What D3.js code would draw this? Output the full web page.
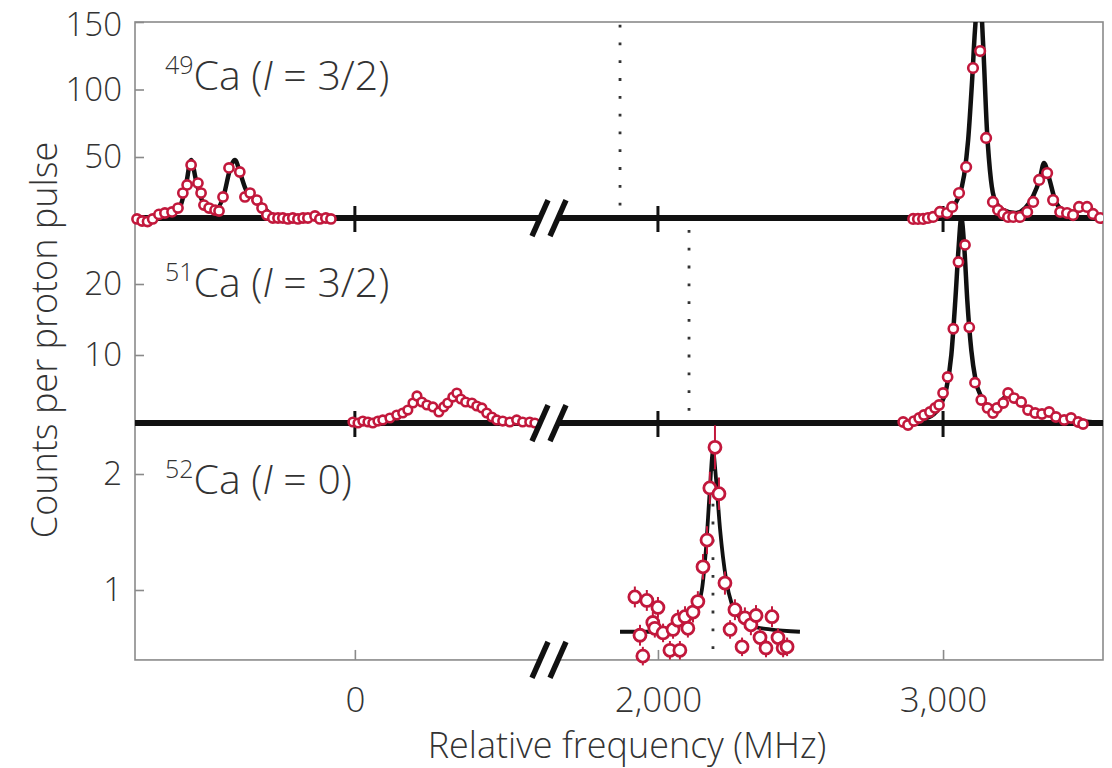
<!DOCTYPE html>
<html>
<head>
<meta charset="utf-8">
<script src="https://cdn.jsdelivr.net/npm/d3@7"></script>
<style>
  body { margin: 0; background: #fff; }
  text { font-family: 'Open Sans', 'Noto Sans', sans-serif; font-weight: 300; fill: #333; }
</style>
</head>
<body>
<svg id="chart" width="1112" height="768"></svg>
<script>
// ---- axis ticks ----
const xTickValues = [0, 2000, 3000];
const yTicks49 = [50, 100, 150];
const yTicks51 = [10, 20];
const yTicks52 = [1, 2];

// ---- 49Ca (I = 3/2): [frequency MHz, counts] ----
const ca49Left = [[-765,4.1],[-747,2.6],[-728,2.2],[-710,4.1],[-688,7.5],[-667,8.5],[-642,9.3],[-621,12.2],
  [-604,23.3],[-589,29.3],[-575,44.1],[-551,30.7],[-540,23.3],[-530,14.4],[-512,12.2],[-491,10.7],[-477,10.0],
  [-463,20.4],[-442,41.9],[-404,38.9],[-386,20.4],[-368,23.3],[-344,18.1],[-326,12.2],[-309,7.0],[-288,4.8],
  [-270,4.8],[-253,4.8],[-235,4.1],[-218,4.8],[-200,4.1],[-182,4.8],[-165,4.8],[-140,6.3],[-123,4.1],[-102,4.8],[-84,4.1]];
const ca49Right = [[2895,4.1],[2912,4.1],[2930,4.1],[2947,4.8],[2965,5.6],[2989,9.3],[3014,8.5],[3032,13.0],
  [3056,23.3],[3081,42.6],[3105,115.9],[3130,128.5],[3151,64.1],[3175,16.7],[3193,10.7],[3211,7.8],[3228,5.6],
  [3246,5.6],[3270,5.6],[3295,9.3],[3316,16.7],[3337,33.0],[3365,38.1],[3386,18.1],[3411,9.3],[3435,8.5],
  [3456,7.0],[3477,13.0],[3505,13.0],[3526,7.8],[3551,4.8]];
const ca49FitLeft = [[-772,4.8],[-684,5.6],[-642,7.8],[-614,13],[-593,29.3],[-575,47.8],[-558,33],[-537,18.1],
  [-509,12.2],[-484,12.2],[-460,21.9],[-439,40.4],[-421,47.8],[-404,38.9],[-382,25.6],[-358,21.1],[-333,15.9],
  [-305,9.3],[-263,5.6],[-193,4.8]];
const ca49FitRight = [[2849,4.8],[2954,5.6],[2989,7.8],[3025,11.5],[3053,19.6],[3074,36.7],[3088,62.6],
  [3102,107],[3112,144],[3119,160],[3133,160],[3140,136],[3154,70],[3168,33],[3182,18.1],[3211,10.7],
  [3253,8.5],[3288,12.2],[3316,21.1],[3340,34.4],[3354,45.6],[3372,34.4],[3393,18.1],[3421,10.7],
  [3463,9.3],[3498,12.2],[3526,9.3],[3561,4.8]];

// ---- 51Ca (I = 3/2) ----
const ca51Left = [[-7,0.56],[11,0.42],[28,0.7],[46,0.56],[63,0.42],[81,0.7],[98,0.85],[123,1.13],[147,1.55],
  [168,1.83],[186,2.25],[204,3.24],[218,4.23],[235,3.38],[253,2.96],[274,2.68],[295,1.97],[312,2.68],[326,3.24],
  [344,4.08],[358,4.65],[372,3.8],[389,3.38],[411,3.24],[428,2.82],[446,2.54],[463,1.83],[481,1.27],[498,0.85],
  [519,0.7],[544,0.56],[568,0.85],[589,0.56],[614,0.56],[632,0.42]];
const ca51Right = [[2860,0.56],[2877,0.14],[2898,0.7],[2916,1.13],[2933,1.55],[2954,1.97],[2972,2.54],[2986,2.96],
  [3000,4.65],[3016,6.9],[3036,13.7],[3054,23.1],[3077,25.5],[3092,13.9],[3112,6.1],[3134,3.66],[3156,2.54],
  [3175,1.83],[3189,2.54],[3211,3.24],[3228,4.65],[3249,3.94],[3274,3.38],[3298,2.25],[3323,1.83],[3347,1.69],
  [3372,1.97],[3396,1.27],[3425,0.85],[3449,1.13],[3474,0.56],[3491,0.28]];
const ca51FitLeft = [[-18,0.42],[88,0.56],[140,1.13],[175,1.97],[196,2.96],[214,3.94],[232,3.66],[256,2.82],
  [281,2.39],[302,2.54],[326,3.38],[351,4.23],[368,4.08],[396,3.52],[432,2.96],[463,1.97],[491,1.13],[544,0.7],[649,0.42]];
const ca51FitRight = [[2814,0.42],[2919,0.85],[2968,1.69],[2991,2.96],[3012,5.35],[3029,10],[3043,17.7],
  [3054,24.8],[3064,29.3],[3075,24.8],[3085,17.7],[3099,10.7],[3114,6.5],[3136,3.94],[3163,2.68],[3189,2.82],
  [3214,3.94],[3232,4.5],[3253,3.94],[3288,2.68],[3340,1.97],[3411,1.27],[3481,0.7],[3561,0.42]];

// ---- 52Ca (I = 0): [frequency MHz, counts, error] ----
const ca52Points = [[1919,0.94,0.09],[1937,0.61,0.09],[1947,0.43,0.08],[1961,0.91,0.09],[1982,0.72,0.09],
  [1989,0.67,0.08],[2000,0.85,0.09],[2018,0.63,0.08],[2042,0.48,0.08],[2053,0.66,0.08],[2070,0.74,0.09],
  [2077,0.48,0.08],[2095,0.77,0.09],[2105,0.67,0.08],[2123,0.81,0.09],[2140,0.90,0.09],[2158,1.20,0.11],
  [2172,1.43,0.12],[2182,1.88,0.14],[2200,2.23,0.19],[2214,1.83,0.14],[2235,1.06,0.10],[2253,0.66,0.08],
  [2270,0.83,0.09],[2295,0.51,0.08],[2305,0.76,0.09],[2326,0.70,0.09],[2344,0.78,0.09],[2358,0.59,0.08],
  [2379,0.50,0.08],[2400,0.77,0.09],[2421,0.59,0.08],[2439,0.50,0.08],[2453,0.51,0.08]];
const ca52Fit = [[1867,0.64],[1972,0.64],[2042,0.67],[2095,0.72],[2130,0.81],[2154,1.0],[2168,1.34],
  [2182,1.86],[2193,2.2],[2204,1.95],[2218,1.52],[2239,1.09],[2260,0.87],[2288,0.76],[2330,0.69],
  [2393,0.66],[2498,0.64]];

// centroid markers (dotted) per isotope
const centroids = [1867, 2109, 2193];
// background level of each panel
const baseline49 = 4.8, baseline51 = 0.42, floor52 = 0.397;

const RED = "#c2183c";
const svg = d3.select("#chart");

// broken frequency axis: two linear pieces
const xLeft = d3.scaleLinear().domain([-772, 650]).range([135, 540]);
const xRight = d3.scaleLinear().domain([1674, 3561]).range([565, 1103]);
const fx = v => v < 1200 ? xLeft(v) : xRight(v);

const y49 = d3.scaleLinear().domain([50, 150]).range([157, 22]);
const y51 = d3.scaleLinear().domain([10, 20]).range([355, 284]);
const y52 = d3.scaleLinear().domain([1, 2]).range([590, 474]);

const X0 = 135, X1 = 1103;
const yTop = y49(150), yBot = y52(floor52);
const base49 = y49(baseline49), base51 = y51(baseline51);

svg.append("defs").append("clipPath").attr("id", "clipTop")
  .append("rect").attr("x", X0).attr("y", yTop).attr("width", X1 - X0).attr("height", base49 - yTop + 30);

// frame
svg.append("rect").attr("x", X0).attr("y", yTop).attr("width", X1 - X0).attr("height", yBot - yTop)
  .attr("fill", "none").attr("stroke", "#8a8a8a").attr("stroke-width", 1.6);

// y axes
function yAxis(scale, ticks) {
  const g = svg.append("g").attr("transform", `translate(${X0},0)`)
    .call(d3.axisLeft(scale).tickValues(ticks).tickSize(-9).tickPadding(13).tickFormat(d3.format("d")));
  g.select(".domain").remove();
  g.selectAll("line").attr("stroke", "#8a8a8a").attr("stroke-width", 1.6);
  g.selectAll("text").style("font-size", "33px").attr("fill", "#333");
  return g;
}
// the top label sits on the frame edge; nudge it so it stays inside the page
yAxis(y49, yTicks49).selectAll("text").filter(d => d === 150).attr("dy", "0.42em");
yAxis(y51, yTicks51);
yAxis(y52, yTicks52);

// bottom x axis, two pieces
function xAxis(scale, ticks) {
  const g = svg.append("g").attr("transform", `translate(0,${yBot})`)
    .call(d3.axisBottom(scale).tickValues(ticks).tickSize(-10).tickPadding(27).tickFormat(d3.format(",")));
  g.select(".domain").remove();
  g.selectAll("line").attr("stroke", "#8a8a8a").attr("stroke-width", 1.6);
  g.selectAll("text").style("font-size", "35px").attr("fill", "#333");
}
xAxis(xLeft, xTickValues.filter(v => v < 1200));
xAxis(xRight, xTickValues.filter(v => v >= 1200));

// centroid dotted lines
const dotted = [[centroids[0], y49(148), base49 - 6], [centroids[1], base49 + 12, base51 - 5], [centroids[2], y52(2.05), yBot]];
svg.selectAll(".centroid").data(dotted).join("line")
  .attr("x1", d => fx(d[0])).attr("x2", d => fx(d[0]))
  .attr("y1", d => d[1]).attr("y2", d => d[2])
  .attr("stroke", "#333").attr("stroke-width", 2.8).attr("stroke-dasharray", "2.8 15");

// thick panel baselines
[base49, base51].forEach(yb => {
  svg.append("line").attr("x1", X0).attr("x2", X1).attr("y1", yb).attr("y2", yb)
    .attr("stroke", "#111").attr("stroke-width", 6);
  svg.selectAll(null).data(xTickValues).join("line")
    .attr("x1", d => fx(d)).attr("x2", d => fx(d)).attr("y1", yb - 12).attr("y2", yb + 14)
    .attr("stroke", "#111").attr("stroke-width", 3);
});

// fit curves
const fitLine = ys => d3.line().x(d => fx(d[0])).y(d => ys(d[1])).curve(d3.curveMonotoneX);
const gTop = svg.append("g").attr("clip-path", "url(#clipTop)");
[ca49FitLeft, ca49FitRight].forEach(f => gTop.append("path").attr("d", fitLine(y49)(f))
  .attr("fill", "none").attr("stroke", "#111").attr("stroke-width", 4.5));
[ca51FitLeft, ca51FitRight].forEach(f => svg.append("path").attr("d", fitLine(y51)(f))
  .attr("fill", "none").attr("stroke", "#111").attr("stroke-width", 4.5));
svg.append("path").attr("d", fitLine(y52)(ca52Fit))
  .attr("fill", "none").attr("stroke", "#111").attr("stroke-width", 3.8);

// error bars (52Ca)
svg.selectAll(".err").data(ca52Points).join("line")
  .attr("x1", d => fx(d[0])).attr("x2", d => fx(d[0]))
  .attr("y1", d => y52(d[1] - d[2])).attr("y2", d => y52(d[1] + d[2]))
  .attr("stroke", RED).attr("stroke-width", 2);

// data points
function points(data, ys, r, sw, parent) {
  (parent || svg).append("g").selectAll("circle").data(data).join("circle")
    .attr("cx", d => fx(d[0])).attr("cy", d => ys(d[1])).attr("r", r)
    .attr("fill", "#fff").attr("stroke", RED).attr("stroke-width", sw);
}
points(ca49Left, y49, 4.6, 2.6);
points(ca49Right, y49, 4.8, 2.6, gTop);
points(ca51Left, y51, 4.3, 2.6);
points(ca51Right, y51, 4.6, 2.6);
points(ca52Points, y52, 6, 2.8);

// axis-break marks
function breakMark(yc) {
  const cx = [540, 558];
  svg.append("polygon")
    .attr("points", `${cx[0] - 7},${yc + 16} ${cx[0] + 7},${yc - 16} ${cx[1] + 7},${yc - 16} ${cx[1] - 7},${yc + 16}`)
    .attr("fill", "#fff");
  cx.forEach(c => svg.append("line").attr("x1", c - 8).attr("y1", yc + 18).attr("x2", c + 8).attr("y2", yc - 18)
    .attr("stroke", "#111").attr("stroke-width", 5.5));
}
breakMark(base49);
breakMark(base51);
breakMark(yBot);

// isotope labels
function isoLabel(mass, spin, yb) {
  const t = svg.append("text").attr("x", 165).attr("y", yb).style("font-size", "41px");
  t.append("tspan").text(mass).style("font-size", "25px").attr("dy", -16);
  t.append("tspan").text("Ca (").attr("dy", 16);
  t.append("tspan").text("I").style("font-style", "italic");
  t.append("tspan").text(" = " + spin + ")");
}
isoLabel("49", "3/2", 90);
isoLabel("51", "3/2", 297);
isoLabel("52", "0", 494);

// axis titles
svg.append("text").attr("x", 627).attr("y", 758).attr("text-anchor", "middle")
  .style("font-size", "36px").text("Relative frequency (MHz)");
svg.append("text").attr("transform", "translate(57,340) rotate(-90)").attr("text-anchor", "middle")
  .style("font-size", "36px").text("Counts per proton pulse");
</script>
</body>
</html>
